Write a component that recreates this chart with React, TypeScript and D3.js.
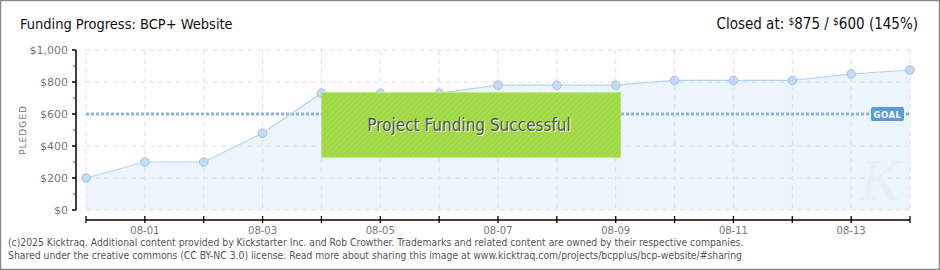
import React from "react";
import * as d3 from "d3";

const dates = ["2025-07-31","2025-08-01","2025-08-02","2025-08-03","2025-08-04","2025-08-05","2025-08-06","2025-08-07","2025-08-08","2025-08-09","2025-08-10","2025-08-11","2025-08-12","2025-08-13","2025-08-14"];
const pledged = [200, 300, 300, 480, 730, 730, 730, 780, 780, 780, 810, 810, 810, 850, 875];
const goal = 600;
const yTicks = [0, 200, 400, 600, 800, 1000];
const yMinor = [100, 300, 500, 700, 900];
const xLabelDates = ["2025-08-01","2025-08-03","2025-08-05","2025-08-07","2025-08-09","2025-08-11","2025-08-13"];
const title = "Funding Progress: BCP+ Website";
const footer1 = "(c)2025 Kicktraq. Additional content provided by Kickstarter Inc. and Rob Crowther. Trademarks and related content are owned by their respective companies.";
const footer2 = "Shared under the creative commons (CC BY-NC 3.0) license. Read more about sharing this image at www.kicktraq.com/projects/bcpplus/bcp-website/#sharing";

const W = 940, H = 270;
const L = 86, R = 910, T = 50, B = 210;

export default function App() {
  const parse = d3.utcParse("%Y-%m-%d");
  const ds = dates.map((d) => parse(d) as Date);
  const x = d3.scaleUtc().domain([ds[0], ds[ds.length - 1]]).range([L, R]);
  const y = d3.scaleLinear().domain([0, 1000]).range([B, T]);
  const pts = ds.map((d, i) => [x(d), y(pledged[i])] as [number, number]);
  const line = d3.line().curve(d3.curveLinear)(pts) || "";
  const area = d3.area<[number, number]>().x((p) => p[0]).y0(B).y1((p) => p[1])(pts) || "";
  const fmt = d3.utcFormat("%m-%d");
  const money = (v: number) => "$" + d3.format(",")(v);
  const font = "'DejaVu Sans', sans-serif";
  const cond = "'DejaVu Sans Condensed','DejaVu Sans',sans-serif";
  const gy = y(goal);
  const boxX0 = x(ds[4]), boxX1 = x(ds[9]) + 5;
  const boxY0 = 92, boxY1 = 158;
  return (
    <svg width={W} height={H} style={{ position: "absolute", left: 0, top: 0, background: "#fff" }} fontFamily={font}>
      <defs>
        <pattern id="hatch" width="4" height="4" patternUnits="userSpaceOnUse" patternTransform="rotate(45)">
          <rect width="4" height="4" fill="#a4dc4c" />
          <line x1="0" y1="0" x2="0" y2="4" stroke="#9bd244" strokeWidth="1.5" />
        </pattern>
      </defs>
      <rect x={0.5} y={0.5} width={W - 1} height={H - 1} fill="#fff" stroke="#888" strokeWidth={1.5} />
      <text x={20} y={29} fontSize={14.5} fill="#111" style={{ fontStretch: "condensed" }} fontFamily={cond} fontWeight={300}>{title}</text>
      <text x={918} y={29} fontSize={15} fill="#111" textAnchor="end" fontFamily={cond}>
        <tspan>Closed at: </tspan>
        <tspan fontSize={10} dy={-4}>$</tspan><tspan dy={4}>875 / </tspan>
        <tspan fontSize={10} dy={-4}>$</tspan><tspan dy={4}>600 (145%)</tspan>
      </text>
      {/* area */}
      <path d={area} fill="#ecf4fd" />
      {/* grid */}
      {yTicks.map((t) => (
        <line key={"gy" + t} x1={L} x2={R} y1={y(t)} y2={y(t)} stroke="#dde1e6" strokeDasharray="5,4" />
      ))}
      {ds.map((d, i) => (
        <line key={"gx" + i} x1={x(d)} x2={x(d)} y1={T} y2={B} stroke="#dde1e6" strokeDasharray="5,4" />
      ))}
      {/* watermark */}
      <text x={880} y={200} fontSize={60} fill="#e8eff7" fontStyle="italic" textAnchor="middle" fontFamily="serif">K</text>
      {/* goal line */}
      <line x1={L} x2={R} y1={gy} y2={gy} stroke="#8eb3dd" strokeWidth={3} strokeDasharray="3,2" />
      {/* line */}
      <path d={line} fill="none" stroke="#b5d3f3" strokeWidth={1.2} />
      {pts.map((p, i) => (
        <circle key={"c" + i} cx={p[0]} cy={p[1]} r={4.3} fill="#c2dcf7" stroke="#95b6dc" strokeWidth={0.8} />
      ))}
      {/* goal label */}
      <rect x={871} y={107} width={33} height={14} rx={2} fill="#5b9ad8" />
      <text x={887.5} y={117.5} fontSize={8.5} fill="#fff" textAnchor="middle" fontWeight="bold" letterSpacing={0.5}>GOAL</text>
      {/* success box */}
      <rect x={boxX0} y={boxY0} width={boxX1 - boxX0} height={boxY1 - boxY0} fill="url(#hatch)" />
      <line x1={boxX0} x2={boxX1} y1={boxY0 + 0.5} y2={boxY0 + 0.5} stroke="#c3ea86" />
      <line x1={boxX0} x2={boxX1} y1={boxY1 - 0.5} y2={boxY1 - 0.5} stroke="#c3ea86" />
      <text x={(boxX0 + boxX1) / 2 - 1} y={132} fontSize={17} fill="#fff" textAnchor="middle" fontFamily={cond} style={{ fontStretch: "condensed" }}>Project Funding Successful</text>
      <text x={(boxX0 + boxX1) / 2 - 2} y={131} fontSize={17} fill="#555" textAnchor="middle" fontFamily={cond} style={{ fontStretch: "condensed" }}>Project Funding Successful</text>
      {/* y axis */}
      <line x1={76} x2={76} y1={T} y2={B} stroke="#000" strokeWidth={1.5} />
      {yTicks.map((t) => (
        <g key={"yt" + t}>
          <line x1={72} x2={76} y1={y(t)} y2={y(t)} stroke="#000" strokeWidth={1.5} />
          <text x={68} y={y(t) + 4} fontSize={11} fill="#777" textAnchor="end">{money(t)}</text>
        </g>
      ))}
      {yMinor.map((t) => (
        <line key={"ym" + t} x1={73} x2={76} y1={y(t)} y2={y(t)} stroke="#e00" strokeWidth={1} />
      ))}
      <text transform={`translate(26,${(T + B) / 2}) rotate(-90)`} fontSize={9} fill="#777" textAnchor="middle" letterSpacing={1}>PLEDGED</text>
      {/* x axis */}
      <line x1={L} x2={R} y1={220} y2={220} stroke="#000" strokeWidth={1.5} />
      {ds.map((d, i) => (
        <line key={"xt" + i} x1={x(d)} x2={x(d)} y1={216} y2={223} stroke="#000" strokeWidth={1.3} />
      ))}
      {xLabelDates.map((s) => {
        const d = parse(s) as Date;
        return <text key={"xl" + s} x={x(d)} y={234} fontSize={10} fill="#777" textAnchor="middle">{fmt(d)}</text>;
      })}
      <text x={8} y={246} fontSize={10.3} fill="#555" fontFamily={cond} style={{ fontStretch: "condensed" }}>{footer1}</text>
      <text x={8} y={259} fontSize={10.3} fill="#555" fontFamily={cond} style={{ fontStretch: "condensed" }}>{footer2}</text>
    </svg>
  );
}
